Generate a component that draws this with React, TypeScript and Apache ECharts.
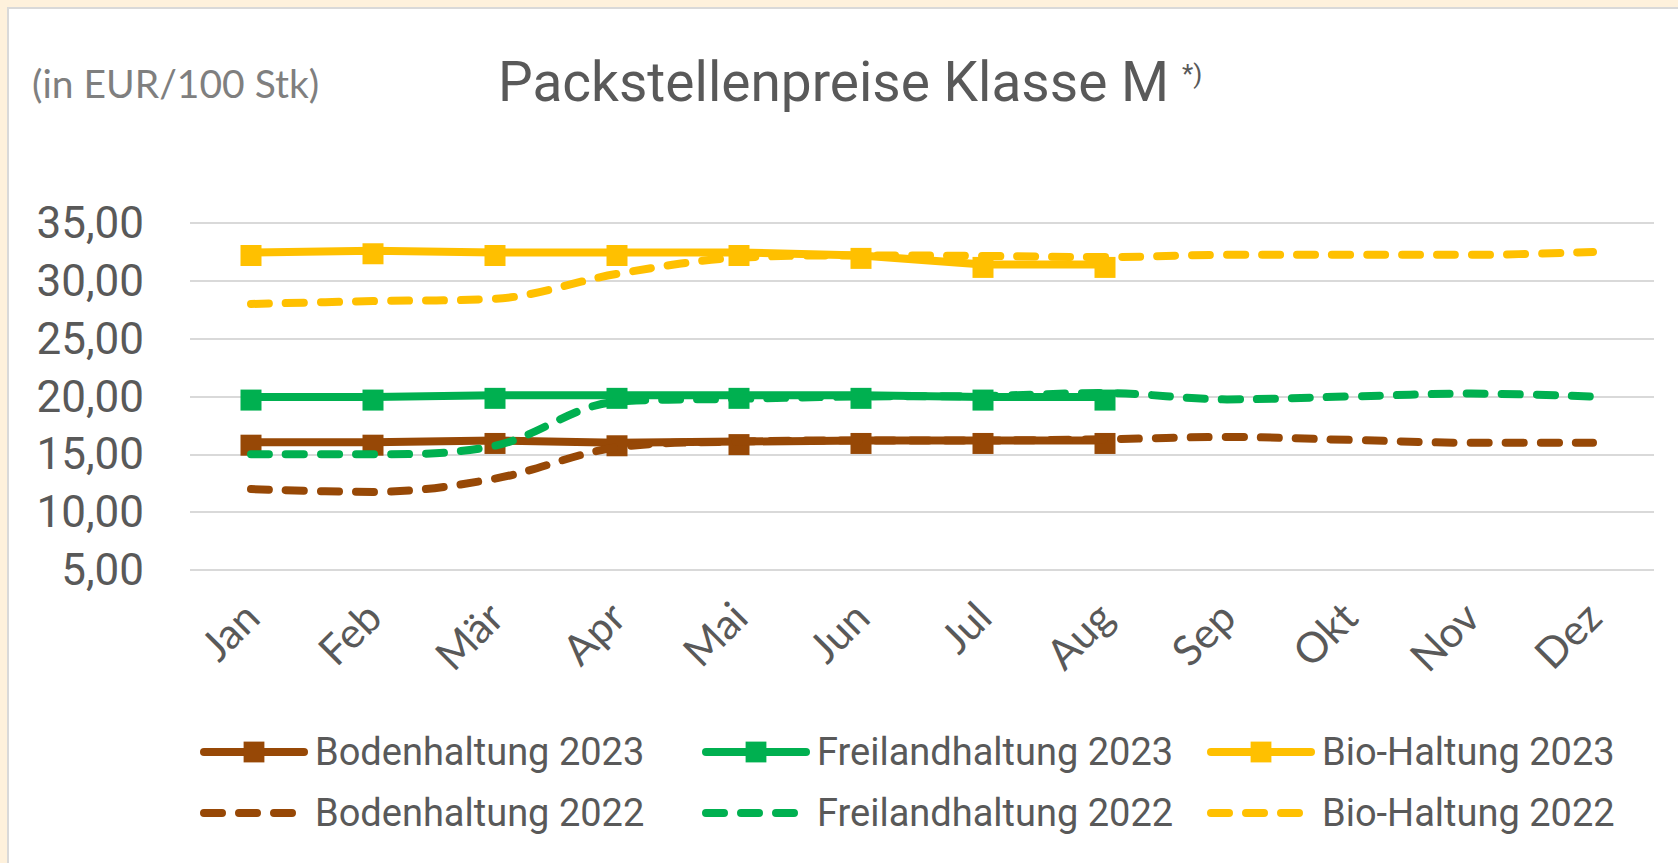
import React, { useEffect, useRef } from "react";
import * as echarts from "echarts";

const months = ["Jan", "Feb", "Mär", "Apr", "Mai", "Jun", "Jul", "Aug", "Sep", "Okt", "Nov", "Dez"];

const boden2023 = [16.05, 16.05, 16.2, 16.0, 16.1, 16.2, 16.2, 16.2];
const freiland2023 = [19.95, 19.95, 20.1, 20.1, 20.1, 20.1, 19.95, 19.95];
const bio2023 = [32.45, 32.6, 32.45, 32.45, 32.45, 32.2, 31.42, 31.42];

const boden2022 = [12.0, 11.75, 12.9, 15.6, 16.1, 16.2, 16.2, 16.3, 16.5, 16.25, 16.0, 16.0];
const freiland2022 = [15.0, 15.0, 15.75, 19.55, 19.8, 20.0, 20.05, 20.3, 19.75, 20.0, 20.25, 20.0];
const bio2022 = [28.0, 28.25, 28.45, 30.6, 32.0, 32.2, 32.15, 32.05, 32.25, 32.25, 32.25, 32.5];

const yMin = 5;
const yMax = 35;
const yStep = 5;

const seriesNames = [
  "Bodenhaltung 2023",
  "Freilandhaltung 2023",
  "Bio-Haltung 2023",
  "Bodenhaltung 2022",
  "Freilandhaltung 2022",
  "Bio-Haltung 2022",
];

const BROWN = "#974806";
const GREEN = "#00B050";
const YELLOW = "#FFC000";
const TEXT = "#595959";

export default function App() {
  const ref = useRef<HTMLDivElement>(null);

  useEffect(() => {
    if (!ref.current) return;
    const chart = echarts.init(ref.current, null, { renderer: "svg" });

    const solid = (name: string, data: number[], color: string) => ({
      name,
      type: "line",
      data,
      symbol: "rect",
      symbolSize: 21,
      symbolOffset: [0, 3],
      itemStyle: { color },
      lineStyle: { color, width: 8 },
      z: 3,
    });
    const dashed = (name: string, data: number[], color: string) => ({
      name,
      type: "line",
      data,
      symbol: "none",
      smooth: 0.35,
      itemStyle: { color },
      lineStyle: { color, width: 8, type: [18, 17], cap: "round" },
      z: 4,
    });

    const legendPos: [number, number][] = [
      [200, 752],
      [702, 752],
      [1207, 752],
      [200, 813],
      [702, 813],
      [1207, 813],
    ];

    const legends = seriesNames.map((n, i) => ({
      data: [n],
      left: legendPos[i][0],
      top: legendPos[i][1] - 19,
      padding: 0,
      itemWidth: 100,
      itemHeight: 26,
      selectedMode: false,
      itemStyle: i >= 3 ? { opacity: 0 } : {},
      lineStyle: { width: 8, cap: "round" },
      textStyle: {
        color: TEXT,
        fontSize: 38,
        fontFamily: "Roboto",
        padding: [0, 0, 0, 6],
      },
    }));

    chart.setOption({
      animation: false,
      backgroundColor: "#FEF1DC",
      graphic: [
        {
          type: "rect",
          z: -10,
          silent: true,
          shape: { x: 8, y: 8, width: 1700, height: 900 },
          style: { fill: "#FFFFFF", stroke: "#D9D9D9", lineWidth: 2 },
        },
        {
          type: "text",
          x: 32,
          y: 83,
          style: {
            text: "(in EUR/100 Stk)",
            fontSize: 39,
            fontFamily: "Lato",
            fill: "#7F7F7F",
            verticalAlign: "middle",
          },
        },
        {
          type: "text",
          x: 498,
          y: 82,
          style: {
            text: "Packstellenpreise Klasse M",
            fontSize: 55,
            fontFamily: "Roboto",
            fill: TEXT,
            verticalAlign: "middle",
          },
        },
        {
          type: "text",
          x: 1182,
          y: 74,
          style: {
            text: "*)",
            fontSize: 26,
            fontFamily: "Roboto",
            fill: TEXT,
            verticalAlign: "middle",
          },
        },
      ],
      legend: legends,
      grid: {
        left: 190,
        right: 24,
        top: 223,
        bottom: 293,
        containLabel: false,
        outerBoundsMode: "none",
      },
      xAxis: {
        type: "category",
        data: months,
        boundaryGap: true,
        axisLine: { show: false },
        axisTick: { show: false },
        axisLabel: {
          rotate: 45,
          interval: 0,
          margin: 39,
          color: TEXT,
          fontSize: 42,
          fontFamily: "Lato",
        },
        splitLine: { show: false },
      },
      yAxis: {
        type: "value",
        min: yMin,
        max: yMax,
        interval: yStep,
        axisLine: { show: false },
        axisTick: { show: false },
        axisLabel: {
          margin: 46,
          color: TEXT,
          fontSize: 44,
          fontFamily: "Roboto",
          formatter: (v: number) => v.toFixed(2).replace(".", ","),
        },
        splitLine: { lineStyle: { color: "#D9D9D9", width: 2 } },
      },
      series: [
        solid(seriesNames[0], boden2023, BROWN),
        solid(seriesNames[1], freiland2023, GREEN),
        solid(seriesNames[2], bio2023, YELLOW),
        dashed(seriesNames[3], boden2022, BROWN),
        dashed(seriesNames[4], freiland2022, GREEN),
        dashed(seriesNames[5], bio2022, YELLOW),
      ],
    });

    return () => chart.dispose();
  }, []);

  return (
    <div
      ref={ref}
      style={{ position: "absolute", left: 0, top: 0, width: 1678, height: 863 }}
    />
  );
}
